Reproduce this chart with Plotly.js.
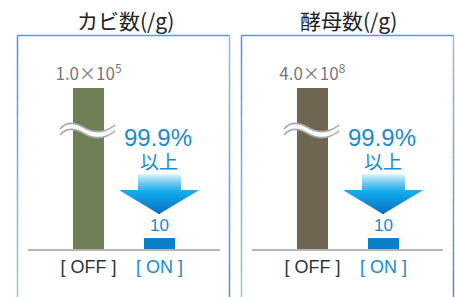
<!DOCTYPE html>
<html>
<head>
<meta charset="utf-8">
<script src="https://cdn.plot.ly/plotly-3.0.1.min.js"></script>
<style>html,body{margin:0;padding:0;background:#fff;}#chart{width:455px;height:297px;}</style>
</head>
<body>
<div id="chart"></div>
<script>
// ---- data ----
const categories = ['OFF', 'ON'];
const tickLabels = ['[ OFF ]', '[ ON ]'];
const panelTitles = ['カビ数(/g)', '酵母数(/g)'];
const moldValues = [1.0e5, 10];
const yeastValues = [4.0e8, 10];
const moldLabels = ['1.0×10<sup>5</sup>', '10'];
const yeastLabels = ['4.0×10<sup>8</sup>', '10'];
const reductionPct = '99.9%';
const reductionWord = '以上';

// ---- styling ----
const FONT = 'Liberation Sans, Arial, Noto Sans CJK JP, sans-serif';
const CJK = 'Noto Sans CJK JP, sans-serif';
const BLUE = '#1a8ad2';
const W = 455, H = 297;
const offColors = ['#6e7f56', '#6e6650'];
const onColor = '#0a80c8';

function hex(c){return [parseInt(c.substr(1,2),16),parseInt(c.substr(3,2),16),parseInt(c.substr(5,2),16)];}
function mix(a,b,t){const A=hex(a),B=hex(b);return 'rgb('+A.map((v,i)=>Math.round(v+(B[i]-v)*t)).join(',')+')';}

// log-range lower bound so the small bar has the chosen visual proportion (broken axis)
function lowBound(top, k){ return (k*top - 1)/(k - 1); }
const k = 11/161;

const panels = [
  {vals: moldValues, labels: moldLabels, color: offColors[0], xa:'x', ya:'y', dx: 0, xdom:[28/W,220/W], xr:[-0.852,1.852]},
  {vals: yeastValues, labels: yeastLabels, color: offColors[1], xa:'x2', ya:'y2', dx: 224, xdom:[252/W,443/W], xr:[-0.852,1.838]}
];

const traces = panels.map(p => ({
  type:'bar', x: categories, y: p.vals, xaxis:p.xa, yaxis:p.ya,
  width: 0.437,
  marker:{color:[p.color, onColor], line:{width:0}},
  text: p.labels, textposition:'outside', cliponaxis:false, constraintext:'none',
  textfont:{family:[CJK, FONT], size:[17,17], color:['#777777', BLUE]},
  hoverinfo:'skip'
}));
traces.push({type:'scatter', x:[], y:[], xaxis:'x3', yaxis:'y3', hoverinfo:'skip', showlegend:false});

const ydom = [(H-249)/H, (H-88)/H];
function xaxisCfg(p){
  return {domain:p.xdom, range:p.xr, type:'category', fixedrange:true,
    showline:true, linecolor:'#b5b5b5', linewidth:2, ticks:'', showgrid:false, zeroline:false,
    tickvals: categories,
    ticktext: ['<span style="color:#333333">'+tickLabels[0]+'</span>', '<span style="color:'+BLUE+'">'+tickLabels[1]+'</span>'],
    tickfont:{family:FONT, size:18}};
}
function yaxisCfg(p, anchor){
  const top = Math.log10(p.vals[0]);
  return {domain:ydom, type:'log', range:[lowBound(top,k), top], anchor:anchor,
    showgrid:false, zeroline:false, showline:false, showticklabels:false, ticks:'', fixedrange:true};
}

const shapes = [];
const annotations = [];
const ref = {xref:'x3', yref:'y3'};

// panel borders
[[17.5,229.5],[241.5,453.5]].forEach(([x0,x1])=>{
  const yt = 35.5;
  shapes.push(Object.assign({type:'line', x0:x0, x1:x1, y0:yt, y1:yt, line:{color:'#4f9ee0', width:1.5}}, ref));
  const n = 30;
  for(let i=0;i<n;i++){
    const ya = yt + (H - yt)*i/n, yb = yt + (H - yt)*(i+1)/n + 0.5;
    shapes.push(Object.assign({type:'line', x0:x0, x1:x0, y0:ya, y1:yb, line:{color:mix('#4a96e0','#86d4c0',i/(n-1)), width:1.5}}, ref));
    shapes.push(Object.assign({type:'line', x0:x1, x1:x1, y0:ya, y1:yb, line:{color:mix('#86c2ee','#4a90d8',i/(n-1)), width:1.5}}, ref));
  }
});

panels.forEach((p, idx)=>{
  const d = p.dx;
  // wave break
  const up = `M${60+d},129 C${66+d},122 ${74+d},122 ${83+d},127 C${93+d},133 ${104+d},134 ${115+d},125`;
  const lo = `M${60+d},135 C${66+d},128 ${74+d},128 ${83+d},133 C${93+d},139 ${104+d},140 ${115+d},131`;
  const band = `M${60+d},129 C${66+d},122 ${74+d},122 ${83+d},127 C${93+d},133 ${104+d},134 ${115+d},125 L${115+d},131 C${104+d},140 ${93+d},139 ${83+d},133 C${74+d},128 ${66+d},128 ${60+d},135 Z`;
  shapes.push(Object.assign({type:'path', path:band, fillcolor:'#ffffff', line:{width:0}}, ref));
  shapes.push(Object.assign({type:'path', path:up, line:{color:'#a9a9a9', width:1.6}}, ref));
  shapes.push(Object.assign({type:'path', path:lo, line:{color:'#a9a9a9', width:1.6}}, ref));

  // gradient arrow: shaft
  const s0 = 173, s1 = 190;
  for(let y=s0; y<s1; y++){
    const t = (y - s0)/(s1 - s0);
    shapes.push(Object.assign({type:'rect', x0:138+d, x1:181+d, y0:y, y1:y+1.6, fillcolor:mix('#f4fbfe','#25aeec',Math.pow(t,0.8)), line:{width:0}}, ref));
  }
  // head
  const h0 = 190, h1 = 214, cx = 159+d, hw = 40;
  for(let y=h0; y<h1; y++){
    const t = (y - h0)/(h1 - h0);
    const w0 = hw*(h1 - y)/(h1-h0), w1 = hw*Math.max(0,(h1 - y - 1.6))/(h1-h0);
    const path = `M${cx-w0},${y} L${cx+w0},${y} L${cx+w1},${y+1.6} L${cx-w1},${y+1.6} Z`;
    shapes.push(Object.assign({type:'path', path:path, fillcolor:mix('#12b0f0','#0a6cbc',t), line:{width:0}}, ref));
  }

  annotations.push(Object.assign({x:158+d, y:137, text:reductionPct, showarrow:false, height:20, borderpad:0, font:{family:FONT, size:24, color:BLUE}, xanchor:'center', yanchor:'middle'}, ref));
  annotations.push(Object.assign({x:159+d, y:160, text:reductionWord, showarrow:false, height:20, borderpad:0, font:{family:CJK, size:19, color:BLUE}, xanchor:'center', yanchor:'middle'}, ref));
  annotations.push(Object.assign({x:[125,348][idx], y:20, text:panelTitles[idx], showarrow:false, font:{family:CJK, size:21, color:'#222222'}, xanchor:'center', yanchor:'middle'}, ref));
});

const layout = {
  width:W, height:H, margin:{l:0,r:0,t:0,b:0}, showlegend:false,
  paper_bgcolor:'#ffffff', plot_bgcolor:'rgba(0,0,0,0)',
  xaxis: xaxisCfg(panels[0]), yaxis: yaxisCfg(panels[0],'x'),
  xaxis2: Object.assign(xaxisCfg(panels[1]), {anchor:'y2'}), yaxis2: yaxisCfg(panels[1],'x2'),
  xaxis3: {domain:[0,1], range:[0,W], visible:false, fixedrange:true, anchor:'y3'},
  yaxis3: {domain:[0,1], range:[H,0], visible:false, fixedrange:true, anchor:'x3', overlaying:false},
  shapes: shapes, annotations: annotations, bargap:0
};
layout.xaxis.anchor = 'y';

Plotly.newPlot('chart', traces, layout, {staticPlot:true, displayModeBar:false});
</script>
</body>
</html>
